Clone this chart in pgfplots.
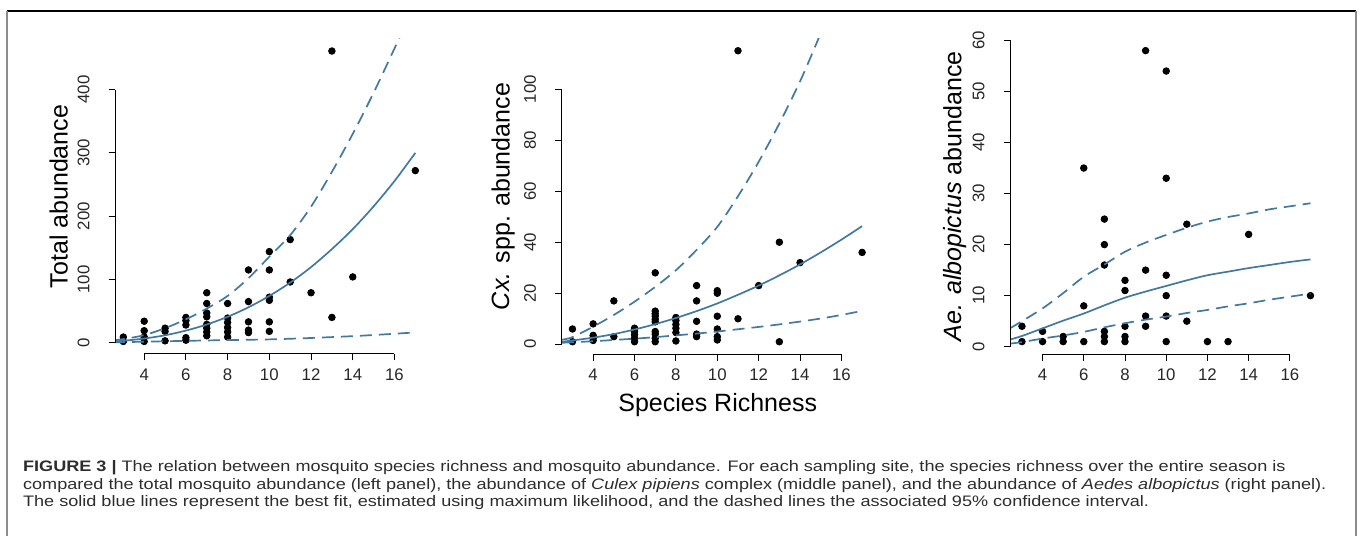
\documentclass[border=0pt]{standalone}
\usepackage{fontspec}
\setmainfont{Liberation Sans}
\usepackage{graphicx}
\usepackage{pgfplots}
\pgfplotsset{compat=1.18}
\definecolor{fitblue}{RGB}{66,121,160}
\definecolor{captxt}{RGB}{45,45,45}

% R-like panel: no box, axis lines only between first and last tick
\pgfplotsset{
  rpanel/.style={
    scale only axis, width=156pt, height=157.5pt,
    anchor=south west,
    axis line style={draw=none},
    tick align=outside,
    xtick pos=bottom, ytick pos=left,
    major tick length=3.25pt,
    tick style={black, line width=0.5pt},
    xtick={4,6,...,16},
    xmax=17.56,
    ticklabel style={font=\fontsize{8.4}{10}\selectfont, text=black!85},
    yticklabel style={rotate=90, anchor=south},
    yticklabel shift=6pt,
    xticklabel style={anchor=north},
    xticklabel shift=0.5pt,
    every axis y label/.style={at={(axis description cs:-0.152,0.5)}, rotate=90, anchor=base, font=\fontsize{12.5}{15}\selectfont},
    every axis x label/.style={at={(axis description cs:0.5,-0.181)}, anchor=base, font=\fontsize{12.5}{15}\selectfont},
    clip mode=individual,
    /pgf/number format/assume math mode=true,
  },
  fitline/.style={fitblue, line width=0.85pt, smooth},
  ciline/.style={fitblue, line width=0.85pt, smooth, dash pattern=on 6pt off 3.5pt},
  pts/.style={only marks, mark=*, mark size=1.65pt, mark options={fill=black, draw=black}},
}

\begin{document}
\begin{tikzpicture}
\useasboundingbox (0,0) rectangle (680pt,268pt);
% figure frame
\draw[black, line width=0.8pt] (3.65pt,262.5pt) -- (678pt,262.5pt);
\draw[black!45, line width=1pt] (3.65pt,0) -- (3.65pt,262.5pt);
\draw[black!45, line width=1pt] (678pt,0) -- (678pt,262.5pt);

% left panel: total abundance
\begin{axis}[rpanel, at={(57.5pt,91pt)},
    xmin=2.6, ymin=-17.8, ymax=480,
    ytick={0,100,...,400},
    ylabel={Total abundance}]
\addplot[pts] coordinates {
 (3,9)(3,2)
 (4,34)(4,19)(4,9)(4,2)
 (5,23)(5,18)(5,3)
 (6,40)(6,35)(6,28)(6,8)(6,4)
 (7,79)(7,62)(7,47)(7,41)(7,29)(7,23)(7,17)(7,11)
 (8,62)(8,39)(8,32)(8,24)(8,17)(8,9)
 (9,115)(9,65)(9,33)(9,20)(9,16)
 (10,144)(10,115)(10,72)(10,67)(10,33)(10,18)
 (11,163)(11,96)
 (12,79)
 (13,461)(13,40)
 (14,104)
 (17,272)
};
\addplot[fitline] coordinates {(2.5,2.0)(3,3.1)(4,6.6)(5,11.8)(6,19.2)(7,28.8)(8,41)(9,56)(10,74)(11,95)(12,119.5)(13,148)(14,179.5)(15,215.5)(16,255.5)(17,300)};
\addplot[ciline] coordinates {(2.5,3.8)(3,5.7)(4,12)(5,23)(6,37)(7,54)(8,74)(9,102)(10,136)(11,170)(12,215)(13,270)(14,330)(15,395)(16,465)(16.5,500)};
\addplot[ciline] coordinates {(2.5,0.8)(3,1.0)(4,1.6)(5,2.3)(6,3.0)(7,3.6)(8,4.2)(9,4.7)(10,5.3)(11,6.3)(12,7.5)(13,8.9)(14,10.4)(15,12.2)(16,14.2)(17,16.3)};
\draw[line width=0.5pt] (axis cs:4,-17.8) -- (axis cs:16,-17.8);
\draw[line width=0.5pt] (axis cs:2.6,0) -- (axis cs:2.6,400);
\end{axis}

% middle panel: Culex
\begin{axis}[rpanel, at={(280.85pt,91pt)},
    xmin=2.48, ymin=-3.8, ymax=119.6,
    ytick={0,20,...,100},
    every axis y label/.append style={at={(axis description cs:-0.167,0.5)}},
    ylabel={\textit{Cx.} spp. abundance},
    xlabel={Species Richness}]
\addplot[pts] coordinates {
 (3,6)(3,1)
 (4,8)(4,3.5)(4,2.5)(4,1.5)
 (5,17)(5,3)
 (6,6.3)(6,5)(6,3.7)(6,2.4)(6,1)
 (7,28)(7,13)(7,12)(7,11)(7,9.8)(7,8.8)(7,5)(7,4)(7,2.4)(7,1)
 (8,10.5)(8,9.3)(8,7.8)(8,6.3)(8,4.6)(8,1.3)
 (9,23)(9,17)(9,9)(9,4)(9,3)
 (10,21)(10,20)(10,11)(10,6)(10,3)(10,1.7)
 (11,115)(11,10)
 (12,23)
 (13,40)(13,1)
 (14,32)
 (17,36)
};
\addplot[fitline] coordinates {(2.5,1.0)(3,1.5)(4,2.6)(5,4.0)(6,5.8)(7,7.9)(8,10.3)(9,13.0)(10,16.0)(11,19.4)(12,23)(13,27)(14,31.3)(15,36)(16,41)(17,46.3)};
\addplot[ciline] coordinates {(2.5,1.8)(3,2.8)(4,6.9)(5,11.5)(6,16.7)(7,22.5)(8,29)(9,37)(10,46)(11,58)(12,71.5)(13,86.5)(14,103)(14.8,118)(15.2,126)};
\addplot[ciline] coordinates {(2.5,0.6)(3,0.8)(4,1.2)(5,1.7)(6,2.2)(7,2.8)(8,3.5)(9,4.2)(10,5.0)(11,5.9)(12,6.8)(13,7.8)(14,8.9)(15,10.1)(16,11.5)(17,13.1)};
\draw[line width=0.5pt] (axis cs:4,-3.8) -- (axis cs:16,-3.8);
\draw[line width=0.5pt] (axis cs:2.48,0) -- (axis cs:2.48,100);
\end{axis}

% right panel: Aedes albopictus
\begin{axis}[rpanel, at={(505pt,91pt)},
    xmin=2.42, ymin=-1.43, ymax=60.28,
    ytick={0,10,...,60},
    every axis y label/.append style={at={(axis description cs:-0.156,0.5)}},
    ylabel={\textit{Ae. albopictus} abundance}]
\addplot[pts] coordinates {
 (3,4)(3,1)
 (4,3)(4,1)
 (5,2)(5,1)
 (6,35)(6,8)(6,1)
 (7,25)(7,20)(7,16)(7,3)(7,2)(7,1)
 (8,13)(8,11)(8,4)(8,2)(8,1)
 (9,58)(9,15)(9,6)(9,4)
 (10,54)(10,33)(10,14)(10,10)(10,6)(10,1)
 (11,24)(11,5)
 (12,1)
 (13,1)
 (14,22)
 (17,10)
};
\addplot[fitline] coordinates {(2.42,1.4)(3,2.1)(4,3.6)(5,5.1)(6,6.5)(7,8.1)(8,9.6)(9,10.8)(10,11.9)(11,13.0)(12,14.0)(13,14.7)(14,15.4)(15,16.0)(16,16.6)(17,17.1)};
\addplot[ciline] coordinates {(2.42,3.6)(3,5.0)(4,7.5)(5,10.5)(6,13.7)(7,16.1)(8,18.6)(9,20.4)(10,21.9)(11,23.3)(12,24.5)(13,25.4)(14,26.1)(15,26.9)(16,27.5)(17,28.1)};
\addplot[ciline] coordinates {(2.42,0.6)(3,0.9)(4,1.6)(5,2.2)(6,2.9)(7,3.8)(8,4.6)(9,5.3)(10,5.9)(11,6.6)(12,7.2)(13,7.9)(14,8.5)(15,9.2)(16,9.8)(17,10.4)};
\draw[line width=0.5pt] (axis cs:4,-1.43) -- (axis cs:16,-1.43);
\draw[line width=0.5pt] (axis cs:2.42,0) -- (axis cs:2.42,60);
\end{axis}

% caption
\begin{scope}[every node/.style={anchor=base west, inner sep=0pt, text=captxt, font=\fontsize{7.6}{9}\selectfont}]
\node at (11.35pt,32.15pt) {\scalebox{1.19}[1]{\textbf{FIGURE 3 |} The relation between mosquito species richness and mosquito abundance. For each sampling site, the species richness over the entire season is}};
\node at (11.35pt,23.4pt) {\scalebox{1.19}[1]{compared the total mosquito abundance (left panel), the abundance of \textit{Culex pipiens} complex (middle panel), and the abundance of \textit{Aedes albopictus} (right panel).}};
\node at (11.35pt,14.65pt) {\scalebox{1.19}[1]{The solid blue lines represent the best fit, estimated using maximum likelihood, and the dashed lines the associated 95\% confidence interval.}};
\end{scope}
\end{tikzpicture}
\end{document}
